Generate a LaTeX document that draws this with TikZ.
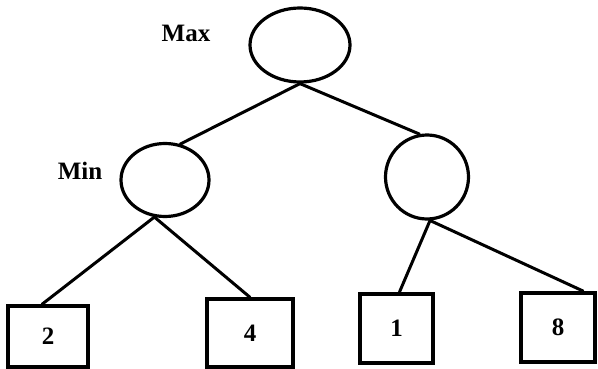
\documentclass[tikz,border=0pt]{standalone}
\usepackage{fontspec}
\setmainfont{Liberation Serif}
\usetikzlibrary{shapes.geometric}
\begin{document}
\begin{tikzpicture}[x=1pt,y=-1pt,
  treenode/.style={ellipse,draw,line width=3.2pt,inner sep=0pt},
  leaf/.style={rectangle,draw,line width=3.4pt,inner sep=0pt,font=\fontsize{25}{28}\selectfont\bfseries},
  lbl/.style={font=\fontsize{25}{28}\selectfont\bfseries},
  edge/.style={line width=3pt,line cap=round}]
\useasboundingbox (0,0) rectangle (598,369);
% tree levels
\node[treenode,minimum width=100pt,minimum height=74pt] (root) at (300,45) {};
\node[treenode,minimum width=88pt,minimum height=73pt] (mn1) at (165,180) {};
\node[treenode,minimum width=83pt,minimum height=84pt] (mn2) at (427,177) {};
\node[lbl] (maxlbl) at (186,33) {Max};
\node[lbl] (minlbl) at (80,171) {Min};
% leaves
\node[leaf,minimum width=80pt,minimum height=61pt] (b2) at (48,336.5) {2};
\node[leaf,minimum width=86pt,minimum height=68pt] (b4) at (250,333) {4};
\node[leaf,minimum width=73pt,minimum height=69pt,line width=4pt] (b1) at (396.5,328.5) {1};
\node[leaf,minimum width=74pt,minimum height=69pt,line width=4pt] (b8) at (558,327.5) {8};
% where the edges meet the leaves
\coordinate (b2in) at ([xshift=-6pt]b2.north);
\coordinate (b1in) at ([xshift=3pt]b1.north);
\coordinate (b8in) at ([xshift=25pt]b8.north);
% edges
\draw[edge] (root.south) -- (mn1.67);
\draw[edge] (root.south) -- (mn2.100);
\draw[edge] (mn1.254) -- (b2in);
\draw[edge] (mn1.254) -- (b4.north);
\draw[edge] (mn2.274) -- (b1in);
\draw[edge] (mn2.274) -- (b8in);
\end{tikzpicture}
\end{document}
